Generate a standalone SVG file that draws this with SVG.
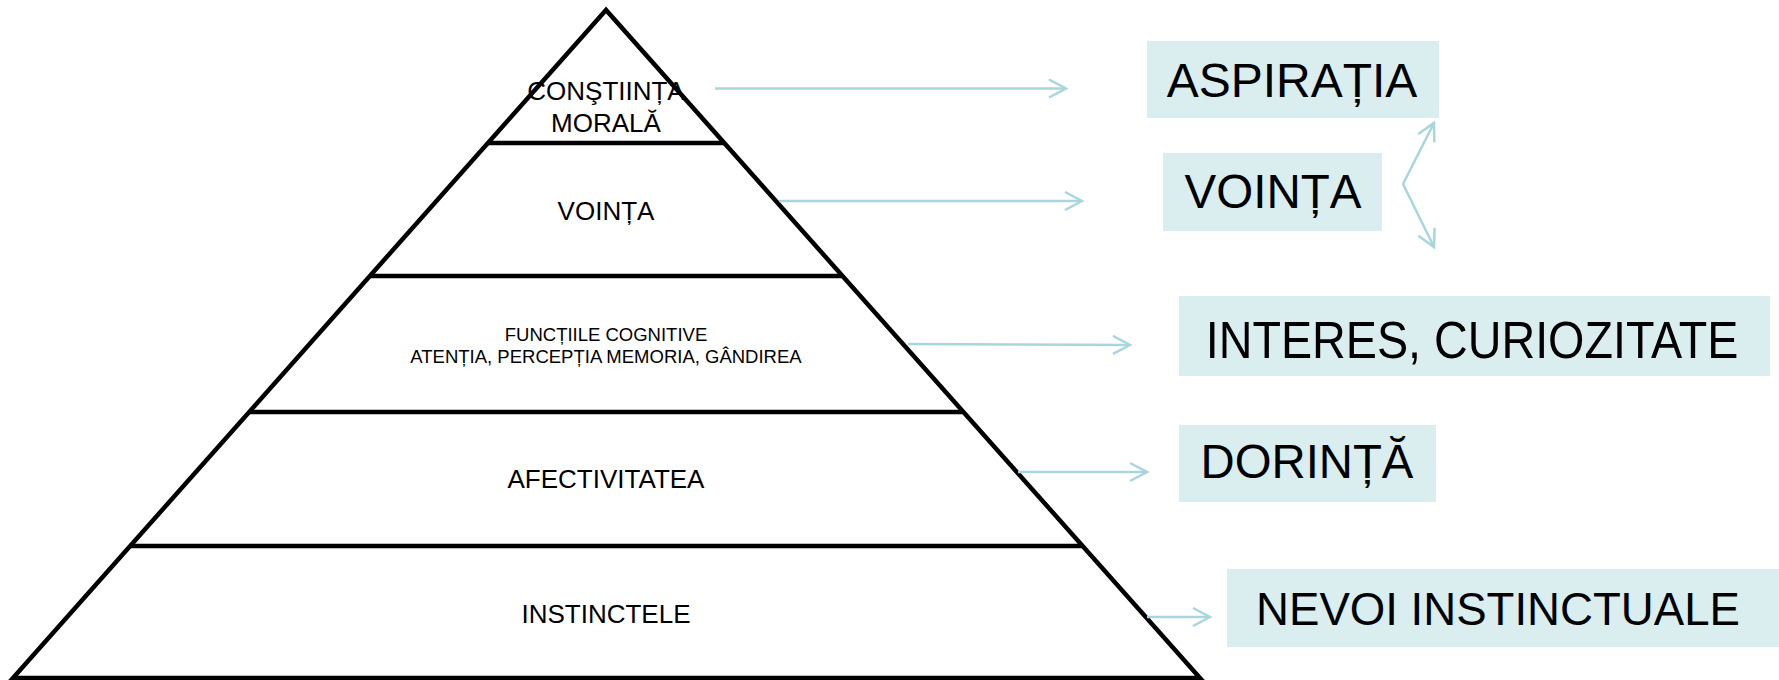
<svg xmlns="http://www.w3.org/2000/svg" width="1779" height="680" viewBox="0 0 1779 680">
<style>
  .pyr { fill: none; stroke: #000; stroke-width: 4.5; }
  .lbl { font-family: "Liberation Sans", Arial, sans-serif; fill: #000; text-anchor: middle; }
  .box { fill: #DAEEF0; }
  .conn { fill: none; stroke: #A8D6DC; stroke-width: 2.5; marker-end: url(#chev); }
</style>
<defs>
  <marker id="chev" markerUnits="userSpaceOnUse" markerWidth="24" markerHeight="24" viewBox="-2 -2 24 24" refX="18" refY="9" orient="auto">
    <path d="M1,0 L18,9 L1,18" fill="none" stroke="#A8D6DC" stroke-width="2.5"/>
  </marker>
</defs>
<rect width="1779" height="680" fill="#fff"/>
<g id="pyramid">
  <polygon class="pyr" points="606,10 13,678 1200,678"/>
  <line class="pyr" x1="488" y1="143" x2="724" y2="143"/>
  <line class="pyr" x1="370" y1="276" x2="842" y2="276"/>
  <line class="pyr" x1="249" y1="412" x2="963" y2="412"/>
  <line class="pyr" x1="130" y1="546" x2="1082" y2="546"/>
</g>
<g id="layer-constiinta">
  <text class="lbl" x="606" y="100" font-size="26">CONŞTIINȚA</text>
  <text class="lbl" x="606" y="132" font-size="26">MORALĂ</text>
</g>
<g id="layer-vointa">
  <text class="lbl" x="606" y="220" font-size="26">VOINȚA</text>
</g>
<g id="layer-functii">
  <text class="lbl" x="606" y="341" font-size="18.5">FUNCȚIILE COGNITIVE</text>
  <text class="lbl" x="606" y="363" font-size="18.5">ATENȚIA, PERCEPȚIA MEMORIA, GÂNDIREA</text>
</g>
<g id="layer-afectivitatea">
  <text class="lbl" x="606" y="488" font-size="26">AFECTIVITATEA</text>
</g>
<g id="layer-instinctele">
  <text class="lbl" x="606" y="623" font-size="26">INSTINCTELE</text>
</g>
<g id="box-aspiratia">
  <rect class="box" x="1147" y="41" width="292" height="77"/>
  <text class="lbl" x="1292" y="97" font-size="48">ASPIRAȚIA</text>
</g>
<g id="box-vointa">
  <rect class="box" x="1163" y="153" width="219" height="78"/>
  <text class="lbl" x="1273" y="208" font-size="47.5">VOINȚA</text>
</g>
<g id="box-interes">
  <rect class="box" x="1179" y="296" width="591" height="80"/>
  <text class="lbl" transform="translate(1472,358) scale(1,1.1)" x="0" y="0" font-size="46.7">INTERES, CURIOZITATE</text>
</g>
<g id="box-dorinta">
  <rect class="box" x="1179" y="425" width="257" height="77"/>
  <text class="lbl" x="1307" y="478" font-size="47.3">DORINȚĂ</text>
</g>
<g id="box-nevoi">
  <rect class="box" x="1227" y="569" width="552" height="78"/>
  <text class="lbl" x="1498" y="625" font-size="45.6">NEVOI INSTINCTUALE</text>
</g>
<g id="connectors">
  <path class="conn" d="M715,88.5 L1066,88.5"/>
  <path class="conn" d="M779,201 L1082,201"/>
  <path class="conn" d="M908,344 L1130,345"/>
  <path class="conn" d="M1018,472 L1147,472"/>
  <path class="conn" d="M1147,617 L1210,617"/>
  <path class="conn" d="M1403,184 L1434,123"/>
  <path class="conn" d="M1403,184 L1434,247"/>
</g>
</svg>
